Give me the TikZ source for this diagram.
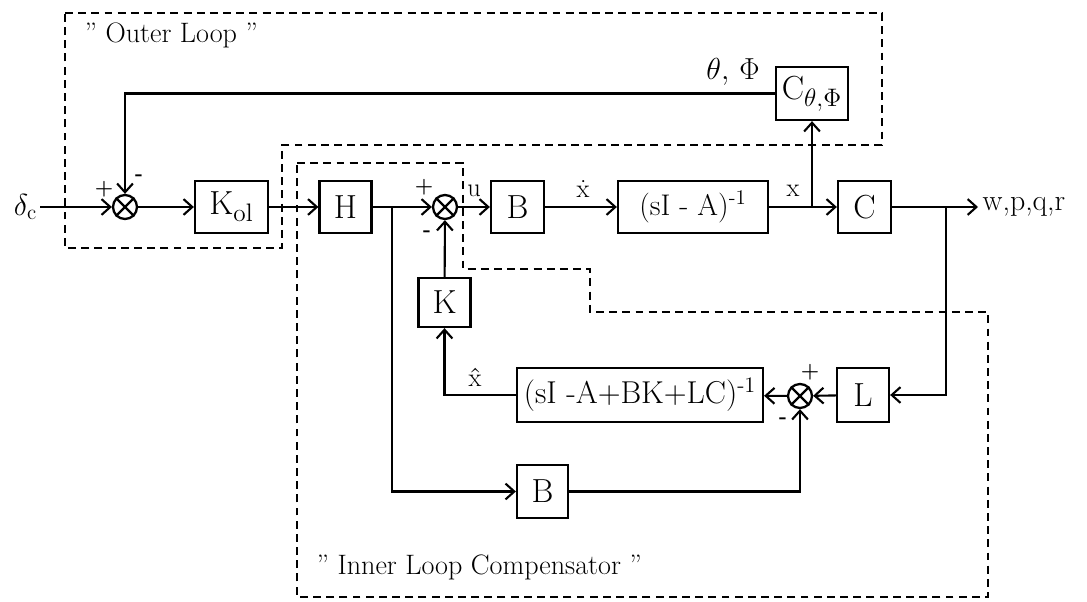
\documentclass[tikz,border=0pt]{standalone}
\usepackage{tikz}
\usetikzlibrary{positioning,arrows.meta,calc}

\begin{document}
\begin{tikzpicture}[
    x=0.02cm, y=-0.02cm,
    line width=1.2pt,
    font=\fontsize{19}{22}\selectfont,
    block/.style={rectangle, draw, line width=1.3pt, minimum width=1.04cm,
                  minimum height=1.04cm, inner sep=2pt},
    sum/.style={circle, draw, line width=1.3pt, minimum size=0.48cm, inner sep=0pt},
    sig/.style={-{Straight Barb[length=5pt,width=9pt]}, line width=1.2pt},
    loopbox/.style={draw, dash pattern=on 4.5pt off 3pt, line width=1.3pt},
    lbl/.style={font=\fontsize{15}{18}\selectfont, inner sep=1pt},
    sgn/.style={font=\fontsize{12}{14}\selectfont\bfseries, inner sep=0pt}
]
\useasboundingbox (0,0) rectangle (1087,601);

% Dashed loop boundaries
\draw[loopbox] (65,13) -- (882,13) -- (882,145) -- (282,145) -- (282,248)
    -- (65,248) -- cycle;
\draw[loopbox] (297,163) -- (463,163) -- (463,269) -- (590,269) -- (590,312)
    -- (988,312) -- (988,597) -- (297,597) -- cycle;
\node[anchor=west, font=\fontsize{16}{19}\selectfont] (OLtxt) at (78,35) {" Outer Loop "};
\node[anchor=west, font=\fontsize{16}{19}\selectfont] (ILtxt) at (310,567) {" Inner Loop Compensator "};

% Forward path
\node[anchor=east, font=\fontsize{17}{20}\selectfont, inner sep=1pt] (dc) at (40,207) {$\delta_{\mathrm{c}}$};
\node[sum] (S1) at (125,207) {};
\node[block, minimum width=1.46cm] (Kol) at (231.5,207) {K$_{\mathrm{ol}}$};
\node[block] (H) at (345.5,207) {H};
\node[sum] (S2) at (445,207) {};
\node[block, minimum width=1.06cm] (B1) at (517.5,207) {B};
\node[block, minimum width=3cm, font=\fontsize{17}{20}\selectfont] (G) at (693,207)
    {(sI - A)\textsuperscript{-1}};
\node[block, minimum width=1.06cm] (C) at (864.5,207) {C};
\coordinate (out) at (978,207);
\node[anchor=west, font=\fontsize{17}{20}\selectfont, inner sep=2pt] (wpqr) at (out) {w,p,q,r};

% Outer feedback
\node[block, minimum width=1.44cm, minimum height=1.06cm] (Ctp) at (812,93.5)
    {C$_{\theta,\Phi}$};

% Observer loop
\node[block, minimum height=0.98cm] (K) at (444.5,302.5) {K};
\node[block, minimum width=4.92cm, minimum height=1.08cm,
      font=\fontsize{18}{21}\selectfont] (Obs) at (640,395) {(sI -A+BK+LC)\textsuperscript{-1}};
\node[sum] (S3) at (800,396) {};
\node[block, minimum height=1.08cm] (L) at (863,395) {L};
\node[block, minimum width=1.02cm, minimum height=1.06cm] (B2) at (542.5,491.5) {B};

% Crosses in the summing junctions
\foreach \s in {S1,S2,S3}
    \draw[line width=1.3pt] (\s.45) -- (\s.225) (\s.135) -- (\s.315);

% Branch points
\coordinate (brH) at (392,207);
\coordinate (brx) at (812,207);
\coordinate (bry) at (946,207);

% Signals
\draw[sig] (dc) -- (S1);
\draw[sig] (S1) -- (Kol);
\draw[sig] (Kol) -- (H);
\draw[sig] (H) -- (S2);
\draw[sig] (S2) -- (B1);
\draw[sig] (B1) -- (G);
\draw[sig] (G) -- (C);
\draw[sig] (C) -- (out);
\draw[sig] (brx) -- (Ctp.south);
\draw[sig] (Ctp.west) -| (S1.north);
\draw[sig] (bry) |- (L.east);
\draw[sig] (L) -- (S3);
\draw[sig] (S3) -- (Obs);
\draw[sig] (Obs.west) -| (K.south);
\draw[sig] (K) -- (S2);
\draw[sig] (brH) |- (B2.west);
\draw[sig] (B2.east) -| (S3.south);

% Signal labels
\node[lbl] (lu) at (474,191) {u};
\node[lbl] (lxd) at (583,189) {\.x};
\node[lbl] (lx) at (793,191) {x};
\node[lbl] (lxh) at (475,377) {\^x};
\node[lbl, font=\fontsize{17}{20}\selectfont] (ltp) at (733,72) {$\theta,\,\Phi$};

% Signs
\node[sgn] (p1) at (104,189) {+};
\node[sgn] (m1) at (139,178) {-};
\node[sgn] (p2) at (424,187) {+};
\node[sgn] (m2) at (427,234) {-};
\node[sgn] (p3) at (810,372) {+};
\node[sgn] (m3) at (783,421) {-};

\end{tikzpicture}
\end{document}
